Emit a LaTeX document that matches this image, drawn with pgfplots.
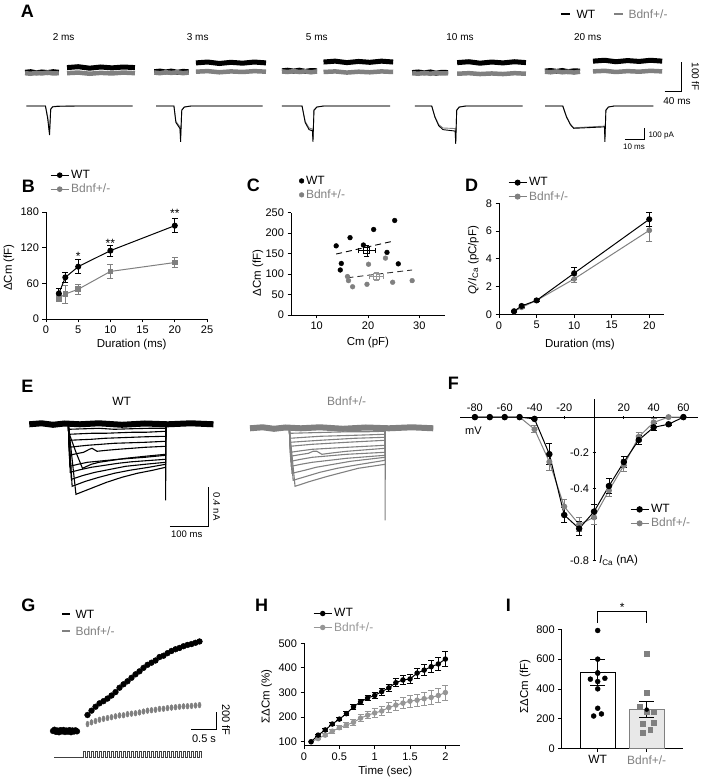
\documentclass[border=0pt]{standalone}
\usepackage{fontspec}
\setmainfont{Liberation Sans}
\setsansfont{Liberation Sans}
\usepackage{pgfplots}
\pgfplotsset{compat=1.18}
\definecolor{bgray}{RGB}{128,128,128}
\definecolor{hgray}{RGB}{150,150,150}
\definecolor{barfill}{RGB}{232,232,232}
\pgfplotsset{
  std/.style={
    scale only axis, anchor=south west,
    axis x line*=bottom, axis y line*=left,
    axis line style={-, line width=0.9pt, black},
    tick align=outside, major tick length=3.5pt,
    tick style={line width=0.9pt, black},
    tick label style={font=\fontsize{11}{12}\selectfont},
    label style={font=\fontsize{11.5}{12}\selectfont},
    /pgf/number format/assume math mode=true,
    ylabel style={anchor=center},
    xlabel style={anchor=center},
    clip=false,
    legend cell align=left,
    legend style={draw=none, fill=none, inner sep=0pt, font=\fontsize{12}{13}\selectfont, row sep=0pt},
    legend image code/.code={\draw[mark repeat=2,mark phase=2,##1] plot coordinates {(0pt,0pt)(9pt,0pt)(18pt,0pt)};},
  },
  trace/.style={hide axis, anchor=origin, clip=false},
  eb/.style={error bars/.cd, y dir=both, y explicit, error bar style={line width=0.8pt}, error mark options={rotate=90, mark size=3pt, line width=0.8pt}},
}
\begin{document}
\begin{tikzpicture}
\path[use as bounding box] (0pt,0pt) rectangle (704pt,781pt);
% panel letters
\begin{scope}[every node/.style={font=\bfseries\fontsize{18}{18}\selectfont}]
\node at (27.3pt,769.3pt) {A};
\node at (28.3pt,594.3pt) {B};
\node at (253.3pt,596pt) {C};
\node at (471.7pt,596pt) {D};
\node at (27.3pt,395pt) {E};
\node at (453.3pt,397.7pt) {F};
\node at (28.3pt,176pt) {G};
\node at (261.7pt,176pt) {H};
\node at (508.3pt,176pt) {I};
\end{scope}
% ---------------- A: capacitance traces
\begin{axis}[trace, x=0.4325pt, y=0.293pt, at={(0pt,709pt)}, xmin=0, xmax=1627, ymin=-70, ymax=60]
\addplot[black, line width=5pt] coordinates {(58,-1)(71,1)(84,-3)(97,0)(110,-2)(123,1)(136,-1)};
\addplot[bgray, line width=4.5pt] coordinates {(58,-4)(71,-6)(84,-3)(97,-5)(110,-2)(123,-5)(136,-4)};
\addplot[bgray, line width=4.5pt] coordinates {(155,-4)(181,-2)(207,-6)(233,-3)(259,-5)(285,-2)(312,-4)};
\addplot[black, line width=5pt] coordinates {(155,15)(181,18)(207,13)(233,17)(259,14)(285,17)(312,15)};
\addplot[black, line width=5pt] coordinates {(357,1)(370,3)(383,0)(396,3)(410,-1)(423,2)(436,1)};
\addplot[bgray, line width=4.5pt] coordinates {(357,-2)(370,-4)(383,-1)(396,-3)(410,-1)(423,-4)(436,-2)};
\addplot[bgray, line width=4.5pt] coordinates {(453,1)(480,3)(507,-1)(534,2)(561,0)(588,3)(615,1)};
\addplot[black, line width=5pt] coordinates {(453,31)(480,34)(507,29)(534,33)(561,30)(588,34)(615,31)};
\addplot[black, line width=5pt] coordinates {(652,4)(665,6)(679,3)(692,6)(706,2)(719,5)(733,4)};
\addplot[bgray, line width=4.5pt] coordinates {(652,2)(665,0)(679,3)(692,0)(706,2)(719,-1)(733,2)};
\addplot[bgray, line width=4.5pt] coordinates {(748,0)(775,2)(802,-2)(829,1)(855,-1)(882,2)(909,0)};
\addplot[black, line width=5pt] coordinates {(748,34)(775,37)(802,32)(829,36)(855,33)(882,37)(909,34)};
\addplot[black, line width=5pt] coordinates {(953,-2)(967,0)(981,-3)(995,0)(1008,-4)(1022,-1)(1036,-2)};
\addplot[bgray, line width=4.5pt] coordinates {(953,-4)(967,-6)(981,-3)(995,-6)(1008,-3)(1022,-5)(1036,-4)};
\addplot[bgray, line width=4.5pt] coordinates {(1057,-6)(1084,-4)(1110,-7)(1137,-5)(1163,-7)(1190,-4)(1216,-6)};
\addplot[black, line width=5pt] coordinates {(1057,32)(1084,35)(1110,30)(1137,34)(1163,31)(1190,35)(1216,32)};
\addplot[black, line width=5pt] coordinates {(1260,3)(1273,5)(1287,2)(1300,5)(1314,1)(1327,4)(1341,3)};
\addplot[bgray, line width=4.5pt] coordinates {(1260,1)(1273,-1)(1287,2)(1300,-1)(1314,1)(1327,-2)(1341,1)};
\addplot[bgray, line width=4.5pt] coordinates {(1371,2)(1398,4)(1424,0)(1451,3)(1478,1)(1504,4)(1531,2)};
\addplot[black, line width=5pt] coordinates {(1371,37)(1398,40)(1424,35)(1451,39)(1478,36)(1504,40)(1531,37)};
\addplot[black, line width=0.9pt] coordinates {(1536.4,-64.8)(1576.4,-64.8)(1576.4,35.2)};
% legend keys
\addplot[black, line width=1.7pt] coordinates {(1297,198)(1318,198)};
\addplot[bgray, line width=1.7pt] coordinates {(1420,198)(1441,198)};
\end{axis}
\begin{scope}[every node/.style={font=\fontsize{12}{13}\selectfont}]
\node[anchor=west] at (573pt,767pt) {WT};
\node[anchor=west, text=bgray] at (625pt,767pt) {Bdnf+/-};
\end{scope}
\begin{scope}[every node/.style={font=\fontsize{10}{12}\selectfont}]
\node at (63.6pt,744.3pt) {2 ms};
\node at (197.7pt,744.3pt) {3 ms};
\node at (316.8pt,744.3pt) {5 ms};
\node at (460pt,744.3pt) {10 ms};
\node at (587.7pt,744.3pt) {20 ms};
\node[rotate=-90] at (695.5pt,704.3pt) {100 fF};
\node at (677pt,680pt) {40 ms};
\end{scope}
\begin{scope}[every node/.style={font=\fontsize{8}{10}\selectfont}]
\node[anchor=west] at (645pt,645pt) {100 pA};
\node at (634pt,634.3pt) {10 ms};
\end{scope}
% ---------------- A: current traces
\begin{axis}[trace, x=1.95pt, y=0.11pt, at={(0pt,675pt)}, xmin=0, xmax=361, ymin=-400, ymax=50]
\addplot[bgray, line width=0.9pt] coordinates {(13.5,0)(23.3,0)(24.5,-100)(25.4,-240)(26,-25)(27,-5)(30,0)(68,0)};
\addplot[black, line width=0.9pt] coordinates {(13.5,0)(23.3,0)(24.5,-120)(25.4,-264)(26,-30)(27,-8)(30,-3)(40,0)(68,0)};
\addplot[bgray, line width=0.9pt] coordinates {(80,0)(89.2,0)(90.2,-140)(92.3,-190)(92.6,-290)(93.2,-35)(94.5,-8)(98,0)(134.7,0)};
\addplot[black, line width=0.9pt] coordinates {(80,0)(89.2,0)(90.2,-150)(92.3,-205)(92.6,-325)(93.2,-40)(94.5,-10)(98,0)(134.7,0)};
\addplot[bgray, line width=0.9pt] coordinates {(144.6,0)(154.9,0)(156.5,-140)(158.5,-200)(160.2,-210)(160.5,-300)(161,-35)(162.5,-8)(166,0)(200,0)};
\addplot[black, line width=0.9pt] coordinates {(144.6,0)(154.9,0)(156.5,-150)(158.5,-215)(160.2,-225)(160.5,-325)(161,-40)(162.5,-10)(166,0)(200,0)};
\addplot[bgray, line width=0.9pt] coordinates {(212.8,0)(221.4,0)(223,-95)(225,-170)(227.2,-200)(233.4,-205)(233.7,-320)(234.2,-35)(235.5,-8)(239,0)(268,0)};
\addplot[black, line width=0.9pt] coordinates {(212.8,0)(221.4,0)(223,-100)(225,-180)(227.2,-215)(233.4,-228)(233.7,-345)(234.2,-40)(235.5,-10)(239,0)(268,0)};
\addplot[bgray, line width=0.9pt] coordinates {(279.5,0)(288.6,0)(290.5,-95)(292.5,-165)(294.2,-198)(310,-183)(310.2,-300)(310.7,-35)(312,-8)(315,0)(335,0)};
\addplot[black, line width=0.9pt] coordinates {(279.5,0)(288.6,0)(290.5,-100)(292.5,-170)(294.2,-203)(310,-190)(310.2,-325)(310.7,-40)(312,-10)(315,0)(335,0)};
\addplot[black, line width=0.9pt] coordinates {(320.5,-302.7)(330.5,-302.7)(330.5,-202.7)};
\end{axis}
% ---------------- B
\begin{axis}[std, at={(46pt,462pt)}, width=161pt, height=107pt, xmin=0, xmax=25, ymin=0, ymax=180,
  xtick={0,5,10,15,20,25}, ytick={0,60,120,180},
  xlabel={Duration (ms)}, ylabel={ΔCm (fF)},
  xlabel style={at={(axis description cs:0.532,-0.234)}},
  ylabel style={at={(axis description cs:-0.23,0.48)}},
  legend style={at={(axis description cs:0.025,1.41)}, anchor=north west}]
\addplot[bgray, line width=1pt, mark=square*, mark size=2.3pt, forget plot, eb] coordinates {(2,35)+-(0,6) (3,42)+-(0,15) (5,50)+-(0,9) (10,80)+-(0,11) (20,95)+-(0,8)};
\addplot[black, line width=1pt, mark=*, mark size=2.5pt, forget plot, eb] coordinates {(2,43)+-(0,8) (3,70)+-(0,8) (5,88)+-(0,12) (10,115)+-(0,9) (20,157)+-(0,12)};
\addlegendimage{black, line width=1pt, mark=*, mark size=2.3pt}\addlegendentry{WT}
\addlegendimage{bgray, line width=1pt, mark=*, mark size=2.3pt}\addlegendentry{\textcolor{bgray}{Bdnf+/-}}
\node[font=\fontsize{12}{12}\selectfont] at (axis cs:5,106) {*};
\node[font=\fontsize{12}{12}\selectfont] at (axis cs:10,128) {**};
\node[font=\fontsize{12}{12}\selectfont] at (axis cs:20,177) {**};
\end{axis}
% ---------------- C
\begin{axis}[std, at={(291pt,466pt)}, width=154pt, height=102.3pt, xmin=5, xmax=35, ymin=0, ymax=250,
  xtick={10,20,30}, ytick={0,50,100,150,200,250},
  xlabel={Cm (pF)}, ylabel={ΔCm (fF)},
  xlabel style={at={(axis description cs:0.5,-0.27)}},
  ylabel style={at={(axis description cs:-0.215,0.41)}},
  legend image code/.code={\draw[#1] plot coordinates {(3pt,0pt)};},
  legend style={at={(axis description cs:0.052,1.38)}, anchor=north west}]
\addplot[black, only marks, mark=*, mark size=2.4pt] coordinates {(13.8,169)(16.5,189)(21.1,209)(25.2,231)(19.1,171)(14.8,126)(14.6,110)(23.7,153)(25.9,125)};
\addlegendentry{WT}
\addplot[bgray, only marks, mark=*, mark size=2.4pt] coordinates {(16.0,94)(16.2,84)(17.0,69)(19.8,75)(20.1,124)(23.4,139)(24.8,80)(28.6,84)};
\addlegendentry{\textcolor{bgray}{Bdnf+/-}}
\addplot[black, dash pattern=on 6pt off 4pt, line width=0.9pt, forget plot] coordinates {(13.8,149)(25.1,181)};
\addplot[black!80, dash pattern=on 6pt off 4pt, line width=0.9pt, forget plot] coordinates {(16.0,91)(28.6,110)};
\addplot[black, mark=square, mark size=3pt, line width=1pt, forget plot, error bars/.cd, x dir=both, x explicit, y dir=both, y explicit, error bar style={line width=0.9pt}, error mark options={rotate=90, mark size=2.5pt, line width=0.9pt}] coordinates {(19.8,157)+-(1.6,14)};
\addplot[hgray, mark=square, mark size=3pt, line width=1pt, forget plot, error bars/.cd, x dir=both, x explicit, y dir=both, y explicit, error bar style={line width=0.9pt}, error mark options={rotate=90, mark size=2.5pt, line width=0.9pt}] coordinates {(21.6,95)+-(1.4,10)};
\end{axis}
% ---------------- D
\begin{axis}[std, at={(499pt,466.7pt)}, width=165.3pt, height=111pt, xmin=0, xmax=22, ymin=0, ymax=8,
  xtick={0,5,10,15,20}, ytick={0,2,4,6,8},
  xlabel={Duration (ms)}, ylabel={\textit{Q/I}\textsubscript{Ca} (pC/pF)},
  xlabel style={at={(axis description cs:0.49,-0.27)}},
  ylabel style={at={(axis description cs:-0.155,0.49)}},
  legend style={at={(axis description cs:0.054,1.25)}, anchor=north west}]
\addplot[bgray, line width=1pt, mark=*, mark size=2.3pt, forget plot, eb] coordinates {(2,0.2)+-(0,0.05) (3,0.5)+-(0,0.08) (5,1.0)+-(0,0.08) (10,2.55)+-(0,0.25) (20,6.05)+-(0,0.8)};
\addplot[black, line width=1pt, mark=*, mark size=2.5pt, forget plot, eb] coordinates {(2,0.22)+-(0,0.05) (3,0.6)+-(0,0.08) (5,1.0)+-(0,0.08) (10,2.96)+-(0,0.42) (20,6.85)+-(0,0.48)};
\addlegendimage{black, line width=1pt, mark=*, mark size=2.5pt}\addlegendentry{WT}
\addlegendimage{bgray, line width=1pt, mark=*, mark size=2.5pt}\addlegendentry{\textcolor{bgray}{Bdnf+/-}}
\end{axis}
% ---------------- E
\begin{axis}[trace, x=0.383pt, y=100pt, at={(68.3pt,356.7pt)}, xmin=-180, xmax=420, ymin=-1.2, ymax=0.3]
\addplot[black, line width=6pt] coordinates {(-102,0)(-70,0.01)(-40,-0.005)(-10,0.008)(30,0)(80,0.01)(140,-0.005)(200,0.008)(260,0)(320,0.01)(379,0)};
\addplot[black, line width=1.1pt] coordinates {(0,0)(1,-0.05)(40,-0.045)(80,-0.04)(120,-0.05)(160,-0.045)(210,-0.04)(254,-0.04)(254.5,0)};
\addplot[black, line width=1.1pt] coordinates {(0,0)(1,-0.10)(30,-0.095)(60,-0.09)(95,-0.09)(130,-0.085)(165,-0.08)(200,-0.08)(254,-0.07)(254.5,0)};
\addplot[black, line width=1.1pt] coordinates {(0,0)(2,-0.16)(30,-0.155)(60,-0.15)(95,-0.14)(130,-0.135)(165,-0.13)(200,-0.125)(254,-0.12)(254.5,0)};
\addplot[black, line width=1.1pt] coordinates {(0,0)(2,-0.23)(25,-0.22)(50,-0.21)(85,-0.20)(120,-0.19)(160,-0.185)(200,-0.18)(254,-0.17)(254.5,0)};
\addplot[black, line width=1.1pt] coordinates {(0,0)(3,-0.31)(20,-0.295)(40,-0.28)(55,-0.25)(62,-0.24)(75,-0.27)(100,-0.26)(130,-0.25)(165,-0.24)(200,-0.23)(254,-0.22)(254.5,0)};
\addplot[black, line width=1.1pt] coordinates {(0,0)(3,-0.1)(20,-0.28)(37,-0.44)(60,-0.40)(80,-0.38)(115,-0.36)(150,-0.34)(200,-0.32)(254,-0.3)(254.5,0)};
\addplot[black, line width=1.1pt] coordinates {(0,0)(4,-0.42)(25,-0.40)(50,-0.38)(90,-0.365)(130,-0.35)(165,-0.34)(200,-0.33)(254,-0.31)(254.5,0)};
\addplot[black, line width=1.1pt] coordinates {(0,0)(5,-0.48)(30,-0.455)(60,-0.43)(95,-0.41)(130,-0.39)(165,-0.375)(200,-0.365)(254,-0.35)(254.5,0)};
\addplot[black, line width=1.1pt] coordinates {(0,0)(8,-0.55)(40,-0.51)(70,-0.48)(110,-0.45)(150,-0.42)(200,-0.40)(254,-0.38)(254.5,0)};
\addplot[black, line width=1.1pt] coordinates {(0,0)(10,-0.62)(45,-0.57)(80,-0.53)(120,-0.49)(160,-0.46)(210,-0.43)(254,-0.40)(254.5,0)};
\addplot[black, line width=1.1pt] coordinates {(0,0)(20,-0.70)(60,-0.64)(100,-0.58)(140,-0.53)(180,-0.49)(220,-0.46)(254,-0.43)(254.2,-0.76)(254.6,0)};
\addplot[black, line width=0.9pt] coordinates {(265.5,-1.024)(365.5,-1.024)(365.5,-0.624)};
\end{axis}
\begin{axis}[trace, x=0.383pt, y=100pt, at={(289.3pt,352.7pt)}, xmin=-180, xmax=420, ymin=-1.2, ymax=0.3]
\addplot[bgray, line width=6pt] coordinates {(-102.7,0)(-70,0.01)(-40,-0.005)(-10,0.008)(30,0)(80,0.01)(140,-0.005)(200,0.008)(260,0)(320,0.01)(376,0)};
\addplot[bgray, line width=1.1pt] coordinates {(0,0)(1,-0.05)(50,-0.045)(100,-0.04)(150,-0.035)(200,-0.035)(250,-0.03)(250.5,0)};
\addplot[bgray, line width=1.1pt] coordinates {(0,0)(1,-0.10)(40,-0.09)(80,-0.08)(125,-0.075)(170,-0.07)(210,-0.065)(250,-0.06)(250.5,0)};
\addplot[bgray, line width=1.1pt] coordinates {(0,0)(2,-0.14)(40,-0.13)(80,-0.12)(125,-0.11)(170,-0.10)(210,-0.095)(250,-0.09)(250.5,0)};
\addplot[bgray, line width=1.1pt] coordinates {(0,0)(2,-0.18)(30,-0.17)(60,-0.16)(105,-0.15)(150,-0.14)(200,-0.13)(250,-0.12)(250.5,0)};
\addplot[bgray, line width=1.1pt] coordinates {(0,0)(3,-0.24)(30,-0.225)(60,-0.21)(105,-0.20)(150,-0.19)(200,-0.18)(250,-0.17)(250.5,0)};
\addplot[bgray, line width=1.1pt] coordinates {(0,0)(3,-0.28)(25,-0.265)(50,-0.25)(62,-0.23)(72,-0.23)(85,-0.26)(115,-0.245)(150,-0.23)(200,-0.215)(250,-0.20)(250.5,0)};
\addplot[bgray, line width=1.1pt] coordinates {(0,0)(4,-0.33)(30,-0.31)(60,-0.29)(105,-0.275)(150,-0.26)(200,-0.25)(250,-0.24)(250.5,0)};
\addplot[bgray, line width=1.1pt] coordinates {(0,0)(5,-0.38)(30,-0.36)(60,-0.34)(105,-0.32)(150,-0.30)(200,-0.285)(250,-0.27)(250.5,0)};
\addplot[bgray, line width=1.1pt] coordinates {(0,0)(7,-0.45)(40,-0.42)(70,-0.39)(115,-0.36)(160,-0.33)(205,-0.31)(250,-0.29)(250.5,0)};
\addplot[bgray, line width=1.1pt] coordinates {(0,0)(10,-0.52)(45,-0.48)(80,-0.44)(125,-0.40)(170,-0.37)(210,-0.345)(250,-0.32)(250.5,0)};
\addplot[bgray, line width=1.1pt] coordinates {(0,0)(15,-0.58)(55,-0.53)(100,-0.48)(140,-0.44)(180,-0.40)(215,-0.38)(250,-0.36)(250.2,-0.92)(250.6,0)};
\end{axis}
\begin{scope}[every node/.style={font=\fontsize{12}{13}\selectfont}]
\node at (121.7pt,379.3pt) {WT};
\node[text=bgray] at (346.7pt,379.3pt) {Bdnf+/-};
\end{scope}
\begin{scope}[every node/.style={font=\fontsize{9.5}{11}\selectfont}]
\node[rotate=-90] at (216.7pt,274.3pt) {0.4 nA};
\node at (186.7pt,247pt) {100 ms};
\end{scope}
% ---------------- F
\begin{axis}[std, at={(460pt,220.7pt)}, width=238.3pt, height=161.1pt, xmin=-90, xmax=70, ymin=-0.8, ymax=0.1,
  axis lines=middle, axis line style={-, line width=0.9pt},
  tick align=center, major tick length=3pt,
  xtick={-80,-60,-40,-20,20,40,60}, ytick={-0.8,-0.6,-0.4,-0.2},
  yticklabels={-0.8,,-0.4,-0.2},
  xticklabel style={anchor=south, yshift=3pt},
  legend style={at={(axis description cs:0.713,0.36)}, anchor=north west}]
\addplot[bgray, line width=1pt, mark=*, mark size=2.5pt, forget plot, eb] coordinates {(-80,0)+-(0,0) (-70,0)+-(0,0) (-60,0)+-(0,0) (-50,0)+-(0,0) (-40,-0.068)+-(0,0.02) (-30,-0.25)+-(0,0.05) (-20,-0.5)+-(0,0.04) (-10,-0.6)+-(0,0.04) (0,-0.56)+-(0,0.04) (10,-0.41)+-(0,0.035) (20,-0.27)+-(0,0.035) (30,-0.11)+-(0,0.025) (40,-0.03)+-(0,0.02) (50,0)+-(0,0) (60,0)+-(0,0)};
\addplot[black, line width=1pt, mark=*, mark size=2.7pt, forget plot, eb] coordinates {(-80,0)+-(0,0) (-70,0)+-(0,0) (-60,0)+-(0,0) (-50,0)+-(0,0) (-40,-0.01)+-(0,0.005) (-30,-0.207)+-(0,0.06) (-20,-0.547)+-(0,0.04) (-10,-0.623)+-(0,0.04) (0,-0.528)+-(0,0.04) (10,-0.385)+-(0,0.04) (20,-0.251)+-(0,0.03) (30,-0.128)+-(0,0.025) (40,-0.057)+-(0,0.02) (50,-0.04)+-(0,0.005) (60,0)+-(0,0)};
\addlegendimage{black, line width=1pt, mark=*, mark size=2.7pt}\addlegendentry{WT}
\addlegendimage{bgray, line width=1pt, mark=*, mark size=2.5pt}\addlegendentry{\textcolor{bgray}{Bdnf+/-}}
\node[font=\fontsize{11}{12}\selectfont] at (axis cs:-81,-0.077) {mV};
\node[font=\fontsize{11.5}{12}\selectfont, anchor=west] at (axis cs:1,-0.8) {\textit{I}\textsubscript{Ca} (nA)};
\end{axis}
% ---------------- G
\begin{axis}[trace, x=50pt, y=0.0865pt, at={(53pt,50pt)}, xmin=-0.1, xmax=3.6, ymin=-400, ymax=1400]
\addplot[black, only marks, mark=*, mark size=2.9pt] coordinates {(0,0)(0.03,15)(0.06,-10)(0.09,5)(0.12,-15)(0.15,10)(0.18,-5)(0.21,12)(0.24,-12)(0.27,5)(0.30,-8)(0.33,10)(0.36,-14)(0.39,6)(0.42,-6)(0.45,8)(0.48,-4)};
\addplot[bgray, only marks, mark=*, mark size=2.9pt, mark options={xscale=0.55}] coordinates {(0.69,80)(0.77,100)(0.85,115)(0.93,130)(1.01,140)(1.09,150)(1.17,160)(1.25,170)(1.33,180)(1.41,182)(1.49,195)(1.57,200)(1.65,205)(1.73,215)(1.81,225)(1.89,235)(1.97,240)(2.05,245)(2.13,255)(2.21,257)(2.29,265)(2.37,270)(2.45,275)(2.53,280)(2.61,285)(2.69,287)(2.77,290)(2.85,295)(2.93,300)};
\addplot[black, only marks, mark=*, mark size=2.9pt] coordinates {(0.69,185)(0.77,235)(0.85,280)(0.93,320)(1.01,345)(1.09,375)(1.17,410)(1.25,450)(1.33,500)(1.41,540)(1.49,575)(1.57,615)(1.65,655)(1.73,690)(1.81,730)(1.89,765)(1.97,790)(2.05,815)(2.13,855)(2.21,870)(2.29,900)(2.37,925)(2.45,945)(2.53,960)(2.61,980)(2.69,995)(2.77,1005)(2.85,1020)(2.93,1035)};
\addplot[black, line width=0.9pt] coordinates {(2.76,23)(3.26,23)(3.26,223)};
% legend keys
\addplot[black, line width=1.7pt] coordinates {(0.18,1349)(0.34,1349)};
\addplot[bgray, line width=1.7pt] coordinates {(0.18,1156)(0.34,1156)};
\end{axis}
\begin{scope}[every node/.style={font=\fontsize{12}{13}\selectfont}]
\node[anchor=west] at (72pt,166.7pt) {WT};
\node[anchor=west, text=bgray] at (72pt,150pt) {Bdnf+/-};
\end{scope}
\begin{axis}[trace, x=1pt, y=1pt, at={(53pt,23.3pt)}, xmin=0, xmax=160, ymin=-5, ymax=10]
\addplot[black!75, line width=0.8pt] coordinates {(1.3,0)(30,0)
(30,6)(32.8,6)(32.8,0)(34,0)(34,6)(36.8,6)(36.8,0)(38,0)(38,6)(40.8,6)(40.8,0)(42,0)(42,6)(44.8,6)(44.8,0)(46,0)(46,6)(48.8,6)(48.8,0)(50,0)
(50,6)(52.8,6)(52.8,0)(54,0)(54,6)(56.8,6)(56.8,0)(58,0)(58,6)(60.8,6)(60.8,0)(62,0)(62,6)(64.8,6)(64.8,0)(66,0)(66,6)(68.8,6)(68.8,0)(70,0)
(70,6)(72.8,6)(72.8,0)(74,0)(74,6)(76.8,6)(76.8,0)(78,0)(78,6)(80.8,6)(80.8,0)(82,0)(82,6)(84.8,6)(84.8,0)(86,0)(86,6)(88.8,6)(88.8,0)(90,0)
(90,6)(92.8,6)(92.8,0)(94,0)(94,6)(96.8,6)(96.8,0)(98,0)(98,6)(100.8,6)(100.8,0)(102,0)(102,6)(104.8,6)(104.8,0)(106,0)(106,6)(108.8,6)(108.8,0)(110,0)
(110,6)(112.8,6)(112.8,0)(114,0)(114,6)(116.8,6)(116.8,0)(118,0)(118,6)(120.8,6)(120.8,0)(122,0)(122,6)(124.8,6)(124.8,0)(126,0)(126,6)(128.8,6)(128.8,0)(130,0)
(130,6)(132.8,6)(132.8,0)(134,0)(134,6)(136.8,6)(136.8,0)(138,0)(138,6)(140.8,6)(140.8,0)(142,0)(142,6)(144.8,6)(144.8,0)(146,0)(146,6)(148.7,6)(148.7,0)};
\end{axis}
\begin{scope}[every node/.style={font=\fontsize{11}{12}\selectfont}]
\node[rotate=-90] at (226pt,61pt) {200 fF};
\node at (204pt,42.3pt) {0.5 s};
\end{scope}
% ---------------- H
\begin{axis}[std, at={(304pt,35.3pt)}, width=155.5pt, height=102.4pt, xmin=0, xmax=2.2, ymin=84, ymax=500,
  xtick={0,0.5,1,1.5,2}, ytick={100,200,300,400,500},
  xlabel={Time (sec)}, ylabel={ΣΔCm (\%)},
  xlabel style={at={(axis description cs:0.523,-0.254)}},
  ylabel style={at={(axis description cs:-0.24,0.478)}},
  legend style={at={(axis description cs:0.058,1.36)}, anchor=north west}]
\addplot[hgray, line width=1pt, mark=*, mark size=2.2pt, forget plot, eb] coordinates {(0.1,100)+-(0,0) (0.2,113)+-(0,5) (0.3,127)+-(0,6) (0.4,143)+-(0,7) (0.5,157)+-(0,8) (0.6,168)+-(0,10) (0.7,179)+-(0,12) (0.8,196)+-(0,14) (0.9,208)+-(0,15) (1.0,217)+-(0,17) (1.1,225)+-(0,18) (1.2,239)+-(0,19) (1.3,249)+-(0,21) (1.4,257)+-(0,22) (1.5,265)+-(0,24) (1.6,269)+-(0,25) (1.7,275)+-(0,26) (1.8,280)+-(0,27) (1.9,288)+-(0,28) (2.0,300)+-(0,30)};
\addplot[black, line width=1pt, mark=*, mark size=2.2pt, forget plot, eb] coordinates {(0.1,100)+-(0,0) (0.2,127)+-(0,4) (0.3,148)+-(0,5) (0.4,172)+-(0,6) (0.5,192)+-(0,7) (0.6,214)+-(0,8) (0.7,242)+-(0,10) (0.8,262)+-(0,11) (0.9,278)+-(0,12) (1.0,288)+-(0,13) (1.1,304)+-(0,14) (1.2,319)+-(0,15) (1.3,340)+-(0,17) (1.4,351)+-(0,18) (1.5,355)+-(0,19) (1.6,379)+-(0,21) (1.7,391)+-(0,23) (1.8,405)+-(0,25) (1.9,416)+-(0,27) (2.0,436)+-(0,30)};
\addlegendimage{black, line width=1pt, mark=*, mark size=2.2pt}\addlegendentry{WT}
\addlegendimage{hgray, line width=1pt, mark=*, mark size=2.2pt}\addlegendentry{\textcolor{hgray}{Bdnf+/-}}
\end{axis}
% ---------------- I
\begin{axis}[std, at={(561.7pt,32.3pt)}, width=121pt, height=119.4pt, xmin=-0.735, xmax=1.735, ymin=0, ymax=800,
  xtick={0,1}, xticklabels={WT,\textcolor{bgray}{Bdnf+/-}}, ytick={0,200,400,600,800},
  x tick label style={font=\fontsize{12}{13}\selectfont},
  ylabel={ΣΔCm (fF)},
  ylabel style={at={(axis description cs:-0.303,0.52)}}]
\addplot[ybar, bar width=35pt, bar shift=0pt, fill=white, draw=black, line width=1pt] coordinates {(0,512)};
\addplot[ybar, bar width=35pt, bar shift=0pt, fill=barfill, draw=bgray, line width=1pt] coordinates {(1,262)};
\addplot[black, only marks, mark=*, mark size=2.5pt] coordinates {(0,792)(0,600)(0,506)(-0.15,466)(0,450)(0.146,472)(0,401)(0,271)(-0.083,219)(0.076,233)};
\addplot[bgray, only marks, mark=square*, mark size=2.4pt] coordinates {(1,638)(1,376)(0.85,280)(1.15,250)(1,248)(0.92,168)(1.15,172)(1.07,125)(0.92,107)};
\addplot[black, only marks, mark=none, error bars/.cd, y dir=both, y explicit, error bar style={black, line width=1pt}, error mark options={rotate=90, mark size=7.5pt, line width=1pt, black}] coordinates {(0,512)+-(0,87) (1,262)+-(0,55)};
\addplot[black, line width=1pt] coordinates {(0,844)(0,918)(1,918)(1,844)};
\node[font=\fontsize{12}{12}\selectfont] at (axis cs:0.5,950) {*};
\end{axis}
\end{tikzpicture}
\end{document}
